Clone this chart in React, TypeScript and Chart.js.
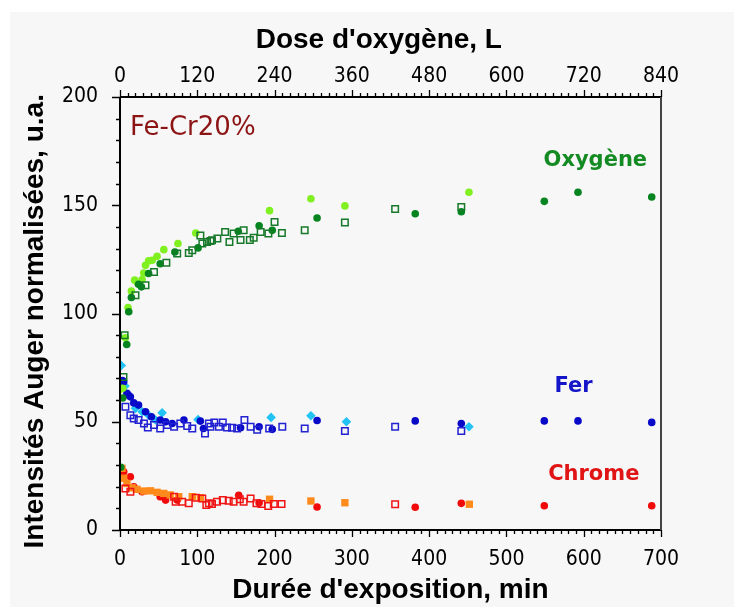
import React, { useEffect, useRef } from "react";
import { Chart, registerables } from "chart.js";

Chart.register(...registerables);

// ---- tick values ----
const timeTicks = [0, 100, 200, 300, 400, 500, 600, 700];
const doseTicks = [0, 120, 240, 360, 480, 600, 720, 840];
const intensityTicks = [0, 50, 100, 150, 200];

// ---- Oxygène ----
const oxygenLime: [number, number][] = [
  [0.5, 65], [3.5, 65.5], [7, 88.8], [10.4, 102.8], [14.7, 110.4], [19, 115.4], [23, 114],
  [28.6, 115.7], [30.7, 118.7], [33, 122.3], [37, 124.3], [41.6, 124.6], [48, 126.4],
  [56.7, 129.5], [75, 132.3], [98, 137.2], [193.5, 147.5], [247, 153], [291, 149.7], [451.5, 156],
];
const oxygenDark: [number, number][] = [
  [1, 29], [3.5, 61], [8.7, 85.7], [11.3, 100.8], [14.7, 107.4], [24, 113.5], [27.7, 112.3],
  [37, 118.5], [52, 123], [71, 128.4], [101, 130.3], [153, 138], [180, 140.5], [197, 138.4],
  [255, 144.1], [382, 146.1], [441.6, 147], [549, 151.8], [592.6, 156], [688, 153.8],
];
const oxygenOpen: [number, number][] = [
  [4.5, 70.7], [6, 90], [20, 108.4], [33, 113], [44, 119.2], [60, 123.4], [74, 127.7],
  [89, 128], [93.5, 129.2], [104, 136], [106.5, 132.3], [112.6, 133], [117, 133.5], [119, 133.8],
  [126, 134.6], [136, 137.7], [141.6, 133], [147, 137], [156, 134], [160, 138.4], [168, 134],
  [173, 135], [182, 137.7], [192, 137], [200, 142.3], [209.5, 137.2], [239, 138.4], [291, 142],
  [356, 148.3], [441.6, 149.2],
];

// ---- Fer ----
const ironDark: [number, number][] = [
  [3, 69], [4.8, 68.5], [9, 63.1], [10.8, 62.3], [13.4, 61.5], [17.8, 58.7], [24, 57.7],
  [33, 54.6], [40.6, 52.3], [52, 50.8], [59, 50], [67.5, 49.2], [82.7, 50.8], [104, 50.3],
  [108, 46.9], [156, 47.2], [180, 47.7], [197, 46.5], [255, 50.6], [382, 50.4], [441.6, 49.2],
  [549, 50.4], [592.6, 50.4], [688, 49.7],
];
const ironCyan: [number, number][] = [
  [1.7, 76], [6.5, 66.5], [20, 56.2], [28.6, 54.6], [37, 53], [46, 50.8], [54.5, 54.1],
  [101, 51], [195.5, 52], [247, 52.8], [293, 50], [451.5, 47.7],
];
const ironOpen: [number, number][] = [
  [7, 56.9], [13.4, 53], [17.8, 51.5], [24, 50.8], [31, 49.2], [36, 47.4], [44, 48.5],
  [52, 46.9], [61, 48.5], [70, 47.7], [78, 49.2], [87, 48], [93.5, 46.9], [110, 44.6],
  [115, 49.2], [117, 47.7], [122, 49.7], [128, 47.7], [133, 49.7], [138.5, 47.4], [145, 47.2],
  [151.5, 46.9], [161, 50.8], [169, 47.7], [177.5, 46.3], [193, 46.9], [210, 47.7], [239, 46.9],
  [291, 45.7], [356, 47.7], [441.6, 45.7],
];

// ---- Chrome ----
const chromeRed: [number, number][] = [
  [1, 24], [4.8, 26.9], [13.4, 24.6], [17.8, 20], [28.6, 17.7], [52, 15.4], [59, 13.8],
  [74, 13.8], [153.6, 16], [180, 12.6], [255, 10.6], [382, 10.5], [441.6, 12.3], [549, 11.2],
  [688, 11.2],
];
const chromeOrange: [number, number][] = [
  [2.6, 28.5], [4.8, 23.9], [9, 21.5], [15.6, 19.5], [22, 18.8], [30.8, 18], [39.4, 18.1],
  [48, 17.4], [56.7, 16.9], [65, 16.2], [76, 15.4], [93.5, 15.4], [104, 14.9], [193.5, 14.2],
  [247, 13.4], [291, 12.6], [452, 11.9],
];
const chromeOpen: [number, number][] = [
  [7, 19.2], [13.4, 17.7], [70, 15.4], [72, 13.1], [80.5, 13.1], [89, 12.3], [98, 14.9],
  [106.5, 14.6], [111.7, 11.5], [115, 12.3], [119, 12], [125.5, 13.1], [133, 13.8], [140.7, 13.5],
  [147, 13.1], [155, 14.2], [160, 13.1], [169, 14.6], [176.6, 12.3], [183, 12], [191.8, 11.1],
  [199, 12], [209, 12], [356, 11.9],
];

// ---- in-plot labels (anchor in data coordinates) ----
const plotLabels = [
  { text: "Fe-Cr20%", x: 13, y: 182.3, color: "#8c1414", align: "left", font: "26px 'DejaVu Sans'" },
  { text: "Oxygène", x: 615, y: 168, color: "#148a22", align: "center", font: "bold 21px 'DejaVu Sans'" },
  { text: "Fer", x: 587, y: 63.7, color: "#1414c8", align: "center", font: "bold 21px 'DejaVu Sans'" },
  { text: "Chrome", x: 613, y: 23, color: "#e01414", align: "center", font: "bold 21px 'DejaVu Sans'" },
];

const toPts = (arr: [number, number][]) => arr.map(([x, y]) => ({ x, y }));

const tickFont = { family: "'Liberation Sans Narrow', 'DejaVu Sans Condensed', 'Liberation Sans', sans-serif", size: 21 };
const titleFont = { family: "'Liberation Sans', Arial, sans-serif", size: 28, weight: "bold" as const };

const framePlugin = {
  id: "frame",
  afterDraw(chart: any) {
    const { ctx, chartArea, scales } = chart;
    const { left, right, top, bottom } = chartArea;
    const xs = scales.x, xt = scales.x2, ys = scales.y;
    ctx.save();
    ctx.strokeStyle = "#000";
    ctx.lineWidth = 1.3;
    ctx.beginPath();
    for (let v = 0; v <= 700; v += 10) {
      const p = Math.round(xs.getPixelForValue(v)) + 0.5;
      const len = v % 100 === 0 ? 7 : 4;
      ctx.moveTo(p, bottom); ctx.lineTo(p, bottom + len);
    }
    for (let v = 0; v <= 840; v += 12) {
      const p = Math.round(xt.getPixelForValue(v)) + 0.5;
      const len = v % 120 === 0 ? 7 : 4;
      ctx.moveTo(p, top); ctx.lineTo(p, top - len);
    }
    for (let v = 0; v <= 200; v += 10) {
      const p = Math.round(ys.getPixelForValue(v)) + 0.5;
      const len = v % 50 === 0 ? 8 : 4;
      ctx.moveTo(left, p); ctx.lineTo(left - len, p);
    }
    ctx.stroke();
    // frame
    ctx.lineWidth = 2;
    ctx.strokeStyle = "#000";
    ctx.beginPath();
    ctx.moveTo(left, top); ctx.lineTo(left, bottom); ctx.lineTo(right, bottom);
    ctx.moveTo(left, top); ctx.lineTo(right, top);
    ctx.stroke();
    ctx.strokeStyle = "#444";
    ctx.beginPath();
    ctx.moveTo(right, top); ctx.lineTo(right, bottom);
    ctx.stroke();
    // labels
    for (const l of plotLabels) {
      ctx.font = l.font;
      ctx.fillStyle = l.color;
      ctx.textAlign = l.align as CanvasTextAlign;
      ctx.textBaseline = "alphabetic";
      ctx.fillText(l.text, xs.getPixelForValue(l.x), ys.getPixelForValue(l.y));
    }
    ctx.restore();
  },
};

export default function App() {
  const ref = useRef<HTMLCanvasElement | null>(null);
  useEffect(() => {
    if (!ref.current) return;
    const circle = (data: [number, number][], color: string, r = 3.8) => ({
      data: toPts(data), pointStyle: "circle", pointRadius: r, backgroundColor: color,
      borderColor: color, borderWidth: 0, showLine: false,
    });
    const open = (data: [number, number][], color: string) => ({
      data: toPts(data), pointStyle: "rect", pointRadius: 4.6, backgroundColor: "rgba(0,0,0,0)",
      borderColor: color, borderWidth: 1.5, showLine: false,
    });
    const filledSq = (data: [number, number][], color: string) => ({
      data: toPts(data), pointStyle: "rect", pointRadius: 5.2, backgroundColor: color,
      borderColor: color, borderWidth: 0, showLine: false,
    });
    const diamond = (data: [number, number][], color: string) => ({
      data: toPts(data), pointStyle: "rectRot", pointRadius: 4.8, backgroundColor: color,
      borderColor: color, borderWidth: 0, showLine: false,
    });
    const chart = new Chart(ref.current, {
      type: "scatter",
      data: {
        datasets: [
          open(oxygenOpen, "#17792a"),
          open(ironOpen, "#2222d2"),
          open(chromeOpen, "#f01414"),
          circle(oxygenDark, "#05841f"),
          circle(oxygenLime, "#80f020"),
          circle(ironDark, "#0808c8"),
          diamond(ironCyan, "#22c2f5"),
          filledSq(chromeOrange, "#ff8a1c"),
          circle(chromeRed, "#f00a0a"),
        ] as any,
      },
      options: {
        animation: false,
        responsive: false,
        devicePixelRatio: 1,
        layout: { padding: { left: 0, right: 73, top: 0, bottom: 0 } },
        plugins: { legend: { display: false }, tooltip: { enabled: false } },
        scales: {
          x: {
            type: "linear", position: "bottom", min: 0, max: 700,
            afterFit: (s: any) => { s.height = 77; },
            afterBuildTicks: (s: any) => { s.ticks = timeTicks.map((v) => ({ value: v })); },
            ticks: { font: tickFont, color: "#000", padding: 9, maxRotation: 0 },
            grid: { display: false }, border: { display: false },
            title: { display: true, text: "Durée d'exposition, min", font: titleFont, color: "#000", padding: { top: 0, bottom: 0 } },
          },
          x2: {
            type: "linear", position: "top", min: 0, max: 840,
            afterFit: (s: any) => { s.height = 97; },
            afterBuildTicks: (s: any) => { s.ticks = doseTicks.map((v) => ({ value: v })); },
            ticks: { font: tickFont, color: "#000", padding: 0, maxRotation: 0 },
            grid: { display: false }, border: { display: false },
            title: { display: true, text: "Dose d'oxygène, L   ", font: titleFont, color: "#000", padding: { top: 23, bottom: 0 } },
          },
          y: {
            type: "linear", position: "left", min: 0, max: 200,
            afterFit: (s: any) => { s.width = 120; },
            afterBuildTicks: (s: any) => { s.ticks = intensityTicks.map((v) => ({ value: v })); },
            ticks: { font: tickFont, color: "#000", padding: 14 },
            grid: { display: false }, border: { display: false },
            title: { display: true, text: "Intensités Auger normalisées, u.a.  ", font: titleFont, color: "#000", padding: { top: 18, bottom: 0 } },
          },
        },
      } as any,
      plugins: [framePlugin],
    });
    return () => chart.destroy();
  }, []);
  return (
    <div style={{ position: "fixed", left: 0, top: 0, width: 734, height: 607, background: "#fff" }}>
      <div style={{ position: "absolute", left: 10, top: 12, right: 0, bottom: 0, background: "#f7f7f7" }} />
      <canvas ref={ref} width={734} height={607} style={{ position: "absolute", left: 0, top: 0, width: 734, height: 607 }} />
    </div>
  );
}
